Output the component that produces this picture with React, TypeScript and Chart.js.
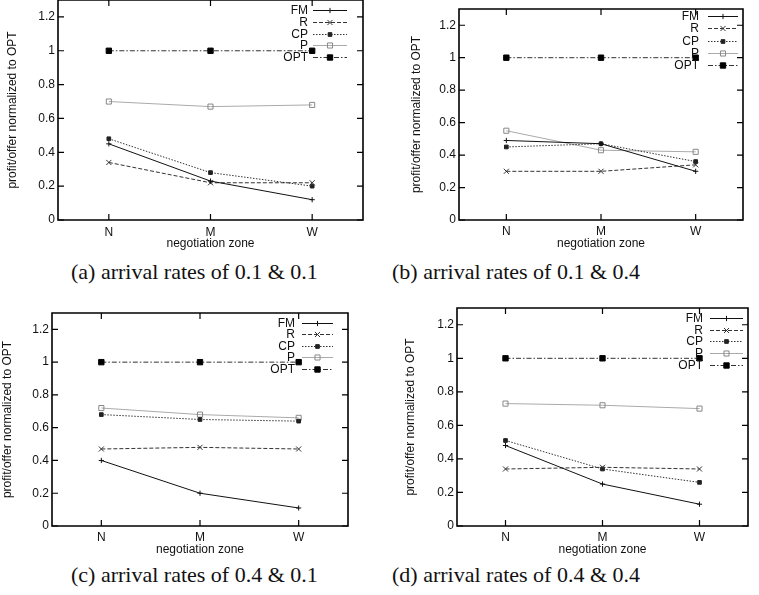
import React, { useEffect, useRef } from 'react';
import { Chart, registerables } from 'chart.js';
import { drawPoint } from 'chart.js/helpers';

Chart.register(...registerables);
Chart.defaults.font.family = '"Liberation Sans", Arial, sans-serif';
Chart.defaults.font.size = 12;
Chart.defaults.color = '#1a1a1a';

// ---- data ----
const categories = ['N', 'M', 'W'];
const yTicks = [0, 0.2, 0.4, 0.6, 0.8, 1, 1.2];
const seriesNames = ['FM', 'R', 'CP', 'P', 'OPT'];
const xTitle = 'negotiation zone';
const yTitle = 'profit/offer normalized to OPT';

// (a) arrival rates of 0.1 & 0.1
const fmA = [0.45, 0.23, 0.12];
const rA = [0.34, 0.22, 0.22];
const cpA = [0.48, 0.28, 0.2];
const pA = [0.7, 0.67, 0.68];
const optA = [1, 1, 1];

// (b) arrival rates of 0.1 & 0.4
const fmB = [0.49, 0.47, 0.3];
const rB = [0.3, 0.3, 0.34];
const cpB = [0.45, 0.47, 0.36];
const pB = [0.55, 0.43, 0.42];
const optB = [1, 1, 1];

// (c) arrival rates of 0.4 & 0.1
const fmC = [0.4, 0.2, 0.11];
const rC = [0.47, 0.48, 0.47];
const cpC = [0.68, 0.65, 0.64];
const pC = [0.72, 0.68, 0.66];
const optC = [1, 1, 1];

// (d) arrival rates of 0.4 & 0.4
const fmD = [0.48, 0.25, 0.13];
const rD = [0.34, 0.35, 0.34];
const cpD = [0.51, 0.34, 0.26];
const pD = [0.73, 0.72, 0.7];
const optD = [1, 1, 1];

const captions = [
  '(a) arrival rates of 0.1 & 0.1',
  '(b) arrival rates of 0.1 & 0.4',
  '(c) arrival rates of 0.4 & 0.1',
  '(d) arrival rates of 0.4 & 0.4',
];

// ---- styles ----
const seriesStyles = [
  { color: '#111111', dash: [] as number[], pointStyle: 'cross', radius: 2.6, bg: '#111111', pb: '#111111' },
  { color: '#333333', dash: [4, 2], pointStyle: 'crossRot', radius: 3.6, bg: '#333333', pb: '#333333' },
  { color: '#333333', dash: [1.5, 1.5], pointStyle: 'rect', radius: 2.6, bg: '#222222', pb: '#222222' },
  { color: '#aaaaaa', dash: [] as number[], pointStyle: 'rect', radius: 3.6, bg: 'rgba(255,255,255,0)', pb: '#888888' },
  { color: '#333333', dash: [5, 2, 1.5, 2], pointStyle: 'rect', radius: 3.8, bg: '#000000', pb: '#000000' },
];

const panels = [
  {
    series: [fmA, rA, cpA, pA, optA],
    box: { left: 0, top: -10, w: 380, h: 262 },
    padTop: 10, padRight: 17, yW: 58, xH: 32,
    xTickPad: 5.8, xTitlePad: 0.8, yTitlePad: 5.8,
    legend: { top: 10, step: 11.8, textGap: 55, s0: 50, s1: 16 },
  },
  {
    series: [fmB, rB, cpB, pB, optB],
    box: { left: 400, top: -10, w: 359, h: 262 },
    padTop: 19, padRight: 16, yW: 59, xH: 32,
    xTickPad: 4.1, xTitlePad: 0.8, yTitlePad: 9.8,
    legend: { top: 7, step: 12.3, textGap: 44, s0: 35, s1: 5 },
  },
  {
    series: [fmC, rC, cpC, pC, optC],
    box: { left: 0, top: 295, w: 380, h: 265 },
    padTop: 18, padRight: 32, yW: 52, xH: 34,
    xTickPad: 4.3, xTitlePad: 3.3, yTitlePad: 0.8,
    legend: { top: 10, step: 11.4, textGap: 53, s0: 46, s1: 15 },
  },
  {
    series: [fmD, rD, cpD, pD, optD],
    box: { left: 400, top: 295, w: 359, h: 265 },
    padTop: 13, padRight: 11, yW: 57, xH: 34,
    xTickPad: 4.3, xTitlePad: 3.3, yTitlePad: 3.8,
    legend: { top: 10, step: 11.7, textGap: 45, s0: 38, s1: 5 },
  },
];

const captionPos = [
  { left: 71, top: 261 },
  { left: 392, top: 261 },
  { left: 71, top: 564 },
  { left: 392, top: 564 },
];

function drawFrame(chart: any) {
  const ctx = chart.ctx;
  const area = chart.chartArea;
  const xs = chart.scales.x;
  const ys = chart.scales.y;
  const l = area.left;
  const r = area.right;
  const t = area.top;
  const b = area.bottom;
  const tl = 6;
  ctx.save();
  ctx.setLineDash([]);
  ctx.globalAlpha = 1;
  ctx.strokeStyle = '#000000';
  ctx.lineWidth = 1.6;
  ctx.beginPath();
  ctx.rect(l, t, r - l, b - t);
  ctx.stroke();
  ctx.lineWidth = 1.2;
  ctx.beginPath();
  for (let k = 0; k < yTicks.length; k++) {
    const y = ys.getPixelForValue(yTicks[k]);
    ctx.moveTo(l, y);
    ctx.lineTo(l + tl, y);
    ctx.moveTo(r, y);
    ctx.lineTo(r - tl, y);
  }
  for (let k = 0; k < categories.length; k++) {
    const x = xs.getPixelForValue(k);
    ctx.moveTo(x, b);
    ctx.lineTo(x, b - tl);
    ctx.moveTo(x, t);
    ctx.lineTo(x, t + tl);
  }
  ctx.stroke();
  ctx.restore();
}

function drawLegend(chart: any, opts: any) {
  const ctx = chart.ctx;
  const area = chart.chartArea;
  chart.data.datasets.forEach((ds: any, i: number) => {
    const y = Math.round(area.top + opts.top + i * opts.step) + 0.5;
    const x0 = area.right - opts.s0;
    const x1 = area.right - opts.s1;
    ctx.save();
    ctx.font = '12px "Liberation Sans", Arial, sans-serif';
    ctx.fillStyle = '#111111';
    ctx.textAlign = 'right';
    ctx.textBaseline = 'middle';
    ctx.fillText(ds.label, area.right - opts.textGap, y);
    ctx.strokeStyle = ds.borderColor;
    ctx.lineWidth = 1;
    ctx.setLineDash(ds.borderDash || []);
    ctx.beginPath();
    ctx.moveTo(x0, y);
    ctx.lineTo(x1, y);
    ctx.stroke();
    ctx.setLineDash([]);
    ctx.fillStyle = ds.pointBackgroundColor;
    ctx.strokeStyle = ds.pointBorderColor;
    drawPoint(ctx, { pointStyle: ds.pointStyle, radius: ds.pointRadius, rotation: 0, borderWidth: 1 }, (x0 + x1) / 2, y);
    ctx.restore();
  });
}

function Panel({ cfg }: { cfg: any }) {
  const ref = useRef<HTMLCanvasElement>(null);
  useEffect(() => {
    const canvas = ref.current;
    if (!canvas) return;
    const datasets = seriesNames.map((name, i) => {
      const st = seriesStyles[i];
      return {
        label: name,
        data: cfg.series[i],
        borderColor: st.color,
        borderWidth: 1,
        borderDash: st.dash,
        pointStyle: st.pointStyle,
        pointRadius: st.radius,
        pointBackgroundColor: st.bg,
        pointBorderColor: st.pb,
        pointBorderWidth: 1,
        tension: 0,
        fill: false,
      };
    });
    const decor = {
      id: 'gnuDecor',
      afterDraw(chart: any) {
        drawFrame(chart);
        drawLegend(chart, cfg.legend);
      },
    };
    const chart = new Chart(canvas, {
      type: 'line',
      data: { labels: categories, datasets },
      plugins: [decor],
      options: {
        animation: false,
        responsive: false,
        devicePixelRatio: 1,
        layout: { padding: { top: cfg.padTop, right: cfg.padRight, left: 0, bottom: 0 } },
        plugins: {
          legend: { display: false },
          tooltip: { enabled: false },
        },
        scales: {
          x: {
            type: 'category',
            offset: true,
            grid: { display: false, drawTicks: false },
            border: { display: false },
            ticks: { padding: cfg.xTickPad, color: '#111111', font: { size: 12 }, maxRotation: 0 },
            title: { display: true, text: xTitle, color: '#111111', font: { size: 12 }, padding: { top: 0, bottom: cfg.xTitlePad } },
            afterFit: (s: any) => { s.height = cfg.xH; s.paddingLeft = 0; s.paddingRight = 0; },
          },
          y: {
            type: 'linear',
            min: 0,
            max: 1.3,
            grid: { display: false, drawTicks: false },
            border: { display: false },
            ticks: { padding: 3, color: '#111111', font: { size: 12 }, callback: (v: any) => String(v) },
            afterBuildTicks: (s: any) => { s.ticks = yTicks.map((v) => ({ value: v })); },
            title: { display: true, text: yTitle, color: '#111111', font: { size: 12 }, padding: { top: cfg.yTitlePad, bottom: 0 } },
            afterFit: (s: any) => { s.width = cfg.yW; s.paddingTop = 0; s.paddingBottom = 0; },
          },
        },
      },
    } as any);
    return () => chart.destroy();
  }, [cfg]);
  return (
    <canvas
      ref={ref}
      width={cfg.box.w}
      height={cfg.box.h}
      style={{ position: 'absolute', left: cfg.box.left, top: cfg.box.top, width: cfg.box.w, height: cfg.box.h }}
    />
  );
}

export default function App() {
  return (
    <div style={{ position: 'absolute', left: 0, top: 0, width: 759, height: 595, background: '#fff', overflow: 'hidden' }}>
      {panels.map((p, i) => (
        <Panel key={i} cfg={p} />
      ))}
      {captions.map((c, i) => (
        <div
          key={'c' + i}
          style={{
            position: 'absolute',
            left: captionPos[i].left,
            top: captionPos[i].top,
            fontFamily: '"Liberation Serif", "Times New Roman", serif',
            fontSize: 22,
            lineHeight: '22px',
            color: '#111',
            whiteSpace: 'nowrap',
          }}
        >
          {c}
        </div>
      ))}
    </div>
  );
}
